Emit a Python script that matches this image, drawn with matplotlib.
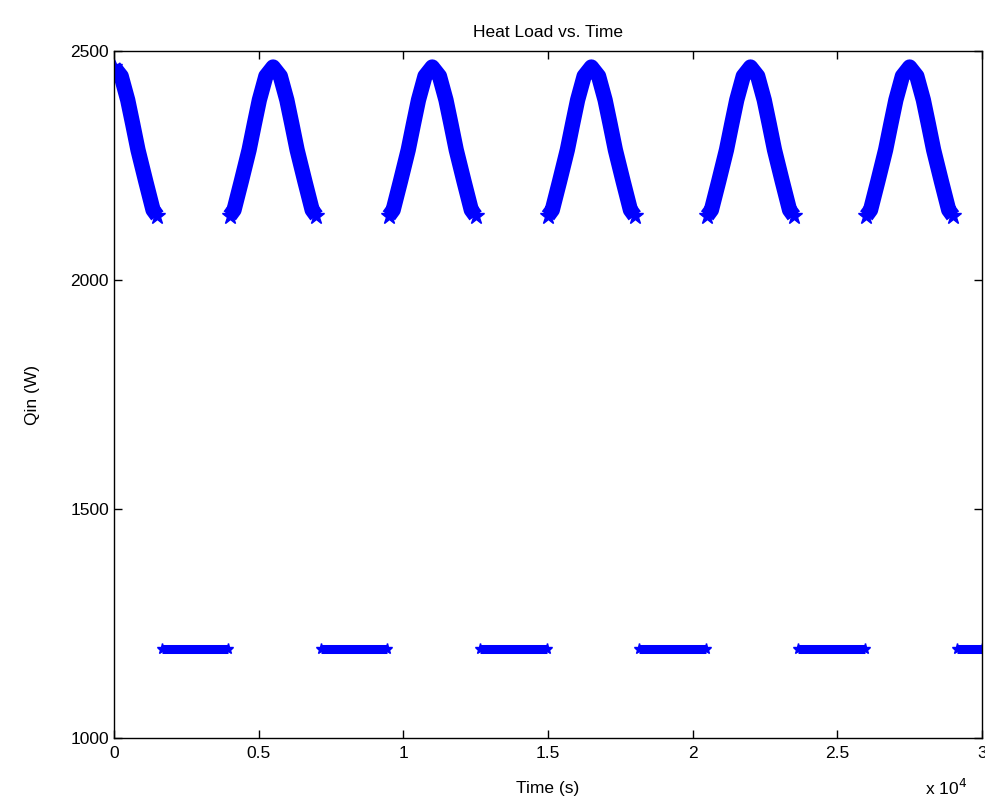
import matplotlib.pyplot as plt
from matplotlib.ticker import FuncFormatter

plt.rcParams['font.family'] = ['Liberation Sans', 'DejaVu Sans']

# peak times of each daytime hump (s)
peak_times = [0, 5500, 11000, 16500, 22000, 27500]
# hump shape: offset from peak (s) and Qin (W)
hump_dt = [-1500, -1350, -1100, -830, -650, -475, -250, 0, 250, 475, 650, 830, 1100, 1350, 1500]
hump_q = [2140, 2153, 2215, 2284, 2340, 2393, 2445, 2465, 2445, 2393, 2340, 2284, 2215, 2153, 2140]
# night-time flat segments
low_start = [1650, 7150, 12650, 18150, 23650, 29150]
low_end = [3950, 9450, 14950, 20450, 25950, 30000]
low_q = 1195

fig = plt.figure(figsize=(9.85, 8.08), dpi=100)
ax = fig.add_axes([0.1157, 0.0866, 0.8812, 0.8503])

blue = (0, 0, 1)
for p in peak_times:
    xs = [p + d for d, q in zip(hump_dt, hump_q) if p + d >= 0]
    ys = [q for d, q in zip(hump_dt, hump_q) if p + d >= 0]
    ax.plot(xs, ys, color=blue, lw=11, solid_capstyle='butt', solid_joinstyle='round')
    ax.plot([xs[0], xs[-1]], [ys[0], ys[-1]], ls='none', marker='*', ms=12, color=blue)

for s, e in zip(low_start, low_end):
    ax.plot([s, e], [low_q, low_q], color=blue, lw=6.5, solid_capstyle='butt',
            marker='*', ms=8)

ax.set_xlim(0, 30000)
ax.set_ylim(1000, 2500)
ax.set_xticks([0, 5000, 10000, 15000, 20000, 25000, 30000])
ax.set_yticks([1000, 1500, 2000, 2500])
ax.xaxis.set_major_formatter(FuncFormatter(lambda v, pos: '%g' % (v / 1e4)))
ax.tick_params(direction='in', top=True, right=True, length=6, labelsize=12.5, width=1)
ax.tick_params(axis='x', pad=6)
for sp in ax.spines.values():
    sp.set_linewidth(1)

ax.set_title('Heat Load vs. Time', fontsize=12.5, pad=10)
ax.set_xlabel('Time (s)', fontsize=12.5, labelpad=14)
ax.set_ylabel('Qin (W)', fontsize=12.5, labelpad=22)
fig.text(0.939, 0.012, r'x 10$^4$', fontsize=12.5, ha='left', va='bottom')

fig.savefig('out.png', dpi=100)
